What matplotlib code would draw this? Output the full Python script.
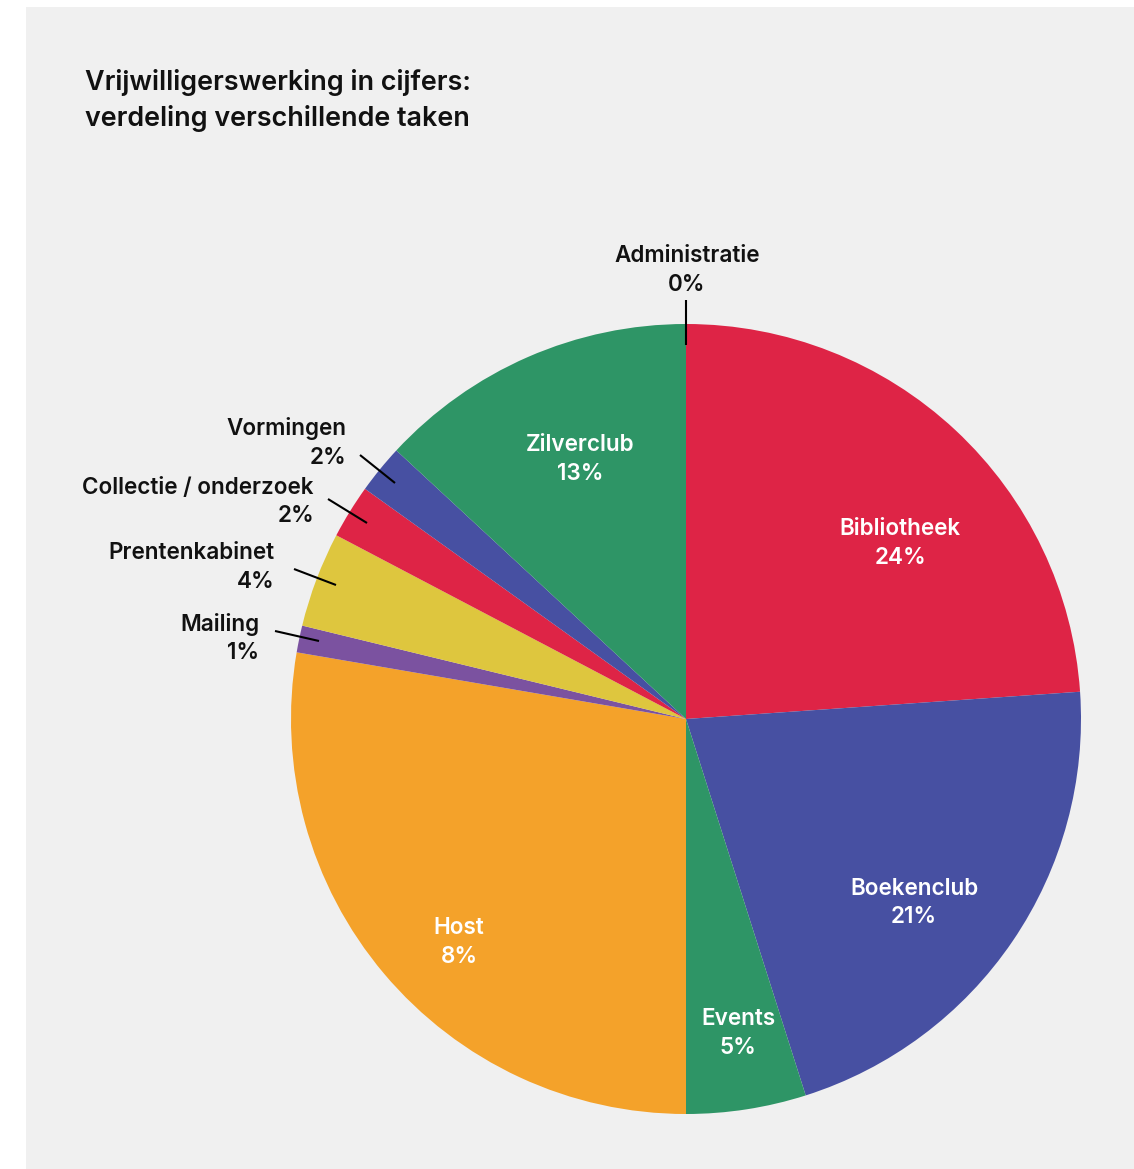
import matplotlib
matplotlib.use("Agg")
import matplotlib.pyplot as plt
from matplotlib.patches import Rectangle

categories = ["Administratie", "Bibliotheek", "Boekenclub", "Events", "Host",
              "Mailing", "Prentenkabinet", "Collectie / onderzoek", "Vormingen", "Zilverclub"]
values = [0, 23.9, 21.2, 4.9, 27.7, 1.1, 3.9, 2.2, 2.0, 13.1]
pct_labels = ["0%", "24%", "21%", "5%", "8%", "1%", "4%", "2%", "2%", "13%"]
colors = ["#2E9566", "#DE2446", "#4750A2", "#2E9566", "#F4A22A",
          "#7B52A0", "#DEC63E", "#DE2446", "#4750A2", "#2E9566"]

W, H = 1134, 1169
plt.rcParams['font.family'] = ['Inter', 'DejaVu Sans']
fig = plt.figure(figsize=(W / 100, H / 100), dpi=100)
fig.patch.set_facecolor("white")
ax = fig.add_axes([0, 0, 1, 1])
ax.set_xlim(0, W)
ax.set_ylim(0, H)
ax.set_aspect("equal")
ax.axis("off")

ax.add_patch(Rectangle((26, 0), W - 26, H - 7, facecolor="#F0F0F0", edgecolor="none", zorder=0))

def Y(y):
    return H - y

cx, cy, R = 686, Y(719), 395
ax.pie(values, colors=colors, startangle=90, counterclock=False,
       center=(cx, cy), radius=R, frame=True,
       wedgeprops=dict(linewidth=0, edgecolor="none"))
ax.set_xlim(0, W)
ax.set_ylim(0, H)
ax.axis("off")

fs = 16.2
wt = "semibold"
# inside labels
inside = {1: (900, 529, 558), 2: (914, 889, 917), 3: (738, 1019, 1048),
          4: (459, 928, 957), 9: (580, 445, 474)}
for i, (x, y1, y2) in inside.items():
    ax.text(x, Y(y1), categories[i], color="white", fontsize=fs, fontweight=wt,
            ha="center", va="center")
    ax.text(x, Y(y2), pct_labels[i], color="white", fontsize=fs, fontweight=wt,
            ha="center", va="center")

# outside labels with leader lines
outside = {
    0: (687, 256, 285, "center", ((686, 300), (686, 345))),
    8: (346, 429, 458, "right", ((360, 455), (395, 483))),
    7: (314, 488, 516, "right", ((328, 499), (367, 523))),
    6: (275, 553, 582, "right", ((294, 569), (336, 585))),
    5: (259, 625, 653, "right", ((275, 631), (319, 641))),
}
for i, (x, y1, y2, ha, line) in outside.items():
    ax.text(x, Y(y1), categories[i], color="#111111", fontsize=fs, fontweight=wt,
            ha=ha, va="center")
    ax.text(x, Y(y2), pct_labels[i], color="#111111", fontsize=fs, fontweight=wt,
            ha=ha, va="center")
    (x0, y0), (x1, y1_) = line
    ax.plot([x0, x1], [Y(y0), Y(y1_)], color="black", lw=1.5, solid_capstyle="butt")

ax.text(85, Y(83), "Vrijwilligerswerking in cijfers:", fontsize=19.4, fontweight=wt,
        color="#111111", ha="left", va="center")
ax.text(85, Y(119), "verdeling verschillende taken", fontsize=19.4, fontweight=wt,
        color="#111111", ha="left", va="center")

fig.savefig("out.png", dpi=100, facecolor=fig.get_facecolor())
